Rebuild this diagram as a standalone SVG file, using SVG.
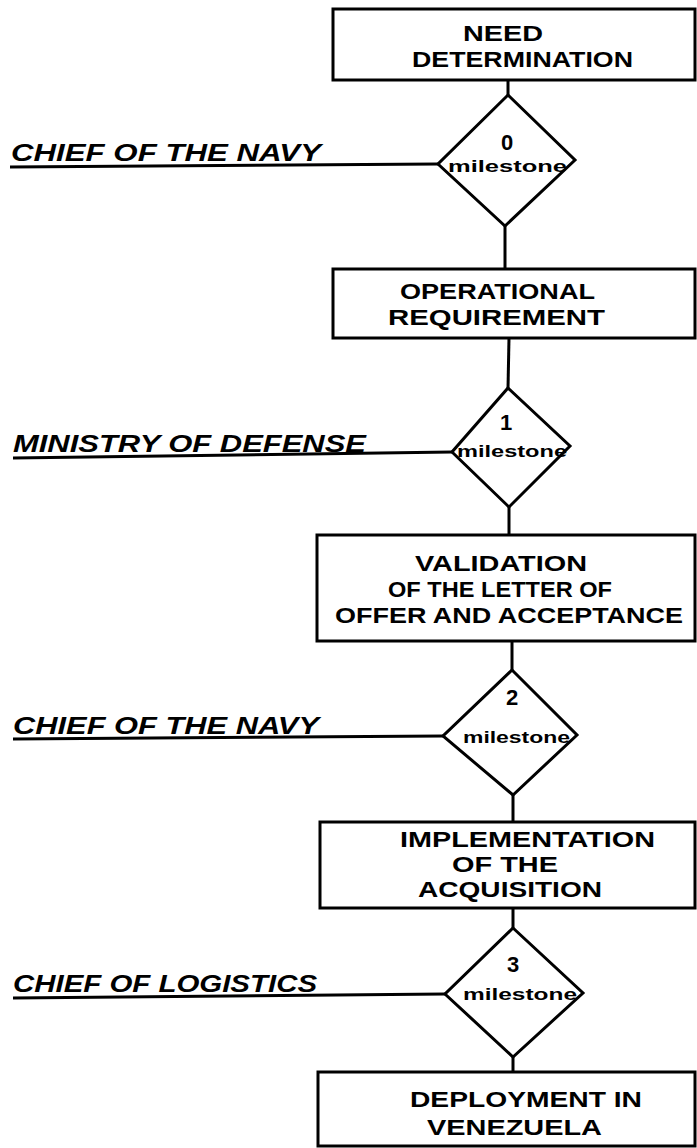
<svg xmlns="http://www.w3.org/2000/svg" width="697" height="1148" viewBox="0 0 697 1148">
  <style>
    .box { fill: #fff; stroke: #000; stroke-width: 3; }
    .dia { fill: #fff; stroke: #000; stroke-width: 3; stroke-linejoin: miter; }
    .wire { fill: none; stroke: #000; stroke-width: 3; }
    .t { font-family: "Liberation Sans", Arial, sans-serif; font-weight: bold; font-size: 22px; fill: #000; }
    .num { font-family: "Liberation Sans", Arial, sans-serif; font-weight: bold; font-size: 22px; fill: #000; text-anchor: middle; }
    .ms { font-family: "Liberation Sans", Arial, sans-serif; font-weight: bold; font-size: 17px; fill: #000; }
    .lbl { font-family: "Liberation Sans", Arial, sans-serif; font-weight: bold; font-style: italic; font-size: 23px; fill: #000; }
  </style>
  <rect x="0" y="0" width="697" height="1148" fill="#fff"/>

  <!-- connectors: vertical flow and authority lines -->
  <g id="connectors">
    <line class="wire" x1="508" y1="80" x2="508" y2="95"/>
    <line class="wire" x1="505" y1="226" x2="505" y2="269"/>
    <line class="wire" x1="509" y1="338" x2="508" y2="388"/>
    <line class="wire" x1="509" y1="507" x2="509" y2="535"/>
    <line class="wire" x1="512" y1="641" x2="512" y2="670"/>
    <line class="wire" x1="513" y1="795" x2="513" y2="822"/>
    <line class="wire" x1="513" y1="908" x2="513" y2="928"/>
    <line class="wire" x1="513" y1="1057" x2="513" y2="1072"/>
    <line class="wire" x1="10" y1="167" x2="438" y2="164"/>
    <line class="wire" x1="13" y1="458" x2="452" y2="452"/>
    <line class="wire" x1="13" y1="739" x2="443" y2="736"/>
    <line class="wire" x1="13" y1="998" x2="445" y2="994"/>
  </g>

  <!-- authority labels -->
  <g id="label-chief-navy-1">
    <text class="lbl" x="11" y="161" textLength="310" lengthAdjust="spacingAndGlyphs">CHIEF OF THE NAVY</text>
  </g>
  <g id="label-ministry-defense">
    <text class="lbl" x="13" y="452" textLength="353" lengthAdjust="spacingAndGlyphs">MINISTRY OF DEFENSE</text>
  </g>
  <g id="label-chief-navy-2">
    <text class="lbl" x="13" y="734" textLength="306" lengthAdjust="spacingAndGlyphs">CHIEF OF THE NAVY</text>
  </g>
  <g id="label-chief-logistics">
    <text class="lbl" x="13" y="992" textLength="304" lengthAdjust="spacingAndGlyphs">CHIEF OF LOGISTICS</text>
  </g>

  <!-- process boxes -->
  <g id="need-determination">
    <rect class="box" x="333" y="9" width="362" height="71"/>
    <text class="t" x="463" y="41" textLength="80" lengthAdjust="spacingAndGlyphs">NEED</text>
    <text class="t" x="412" y="67" textLength="221" lengthAdjust="spacingAndGlyphs">DETERMINATION</text>
  </g>
  <g id="operational-requirement">
    <rect class="box" x="333" y="269" width="362" height="69"/>
    <text class="t" x="400" y="299" textLength="195" lengthAdjust="spacingAndGlyphs">OPERATIONAL</text>
    <text class="t" x="388" y="325" textLength="217" lengthAdjust="spacingAndGlyphs">REQUIREMENT</text>
  </g>
  <g id="validation-loa">
    <rect class="box" x="317" y="535" width="378" height="106"/>
    <text class="t" x="415" y="571" textLength="172" lengthAdjust="spacingAndGlyphs">VALIDATION</text>
    <text class="t" x="388" y="597" textLength="224" lengthAdjust="spacingAndGlyphs">OF THE LETTER OF</text>
    <text class="t" x="335" y="623" textLength="348" lengthAdjust="spacingAndGlyphs">OFFER AND ACCEPTANCE</text>
  </g>
  <g id="implementation">
    <rect class="box" x="320" y="822" width="375" height="86"/>
    <text class="t" x="400" y="847" textLength="255" lengthAdjust="spacingAndGlyphs">IMPLEMENTATION</text>
    <text class="t" x="452" y="872" textLength="106" lengthAdjust="spacingAndGlyphs">OF THE</text>
    <text class="t" x="418" y="897" textLength="184" lengthAdjust="spacingAndGlyphs">ACQUISITION</text>
  </g>
  <g id="deployment">
    <rect class="box" x="318" y="1072" width="377" height="74"/>
    <text class="t" x="410" y="1107" textLength="232" lengthAdjust="spacingAndGlyphs">DEPLOYMENT IN</text>
    <text class="t" x="427" y="1135" textLength="175" lengthAdjust="spacingAndGlyphs">VENEZUELA</text>
  </g>

  <!-- milestone decision points -->
  <g id="milestone-0">
    <polygon class="dia" points="508,95 575,160 505,226 438,164"/>
    <text class="num" x="507" y="150">0</text>
    <text class="ms" x="448" y="172" textLength="119" lengthAdjust="spacingAndGlyphs">milestone</text>
  </g>
  <g id="milestone-1">
    <polygon class="dia" points="508,388 570,446 509,507 452,452"/>
    <text class="num" x="506" y="430">1</text>
    <text class="ms" x="457" y="457" textLength="110" lengthAdjust="spacingAndGlyphs">milestone</text>
  </g>
  <g id="milestone-2">
    <polygon class="dia" points="512,670 577,735 513,795 443,736"/>
    <text class="num" x="512" y="705">2</text>
    <text class="ms" x="463" y="743" textLength="107" lengthAdjust="spacingAndGlyphs">milestone</text>
  </g>
  <g id="milestone-3">
    <polygon class="dia" points="513,928 583,993 513,1057 445,994"/>
    <text class="num" x="513" y="972">3</text>
    <text class="ms" x="463" y="1000" textLength="114" lengthAdjust="spacingAndGlyphs">milestone</text>
  </g>
</svg>
